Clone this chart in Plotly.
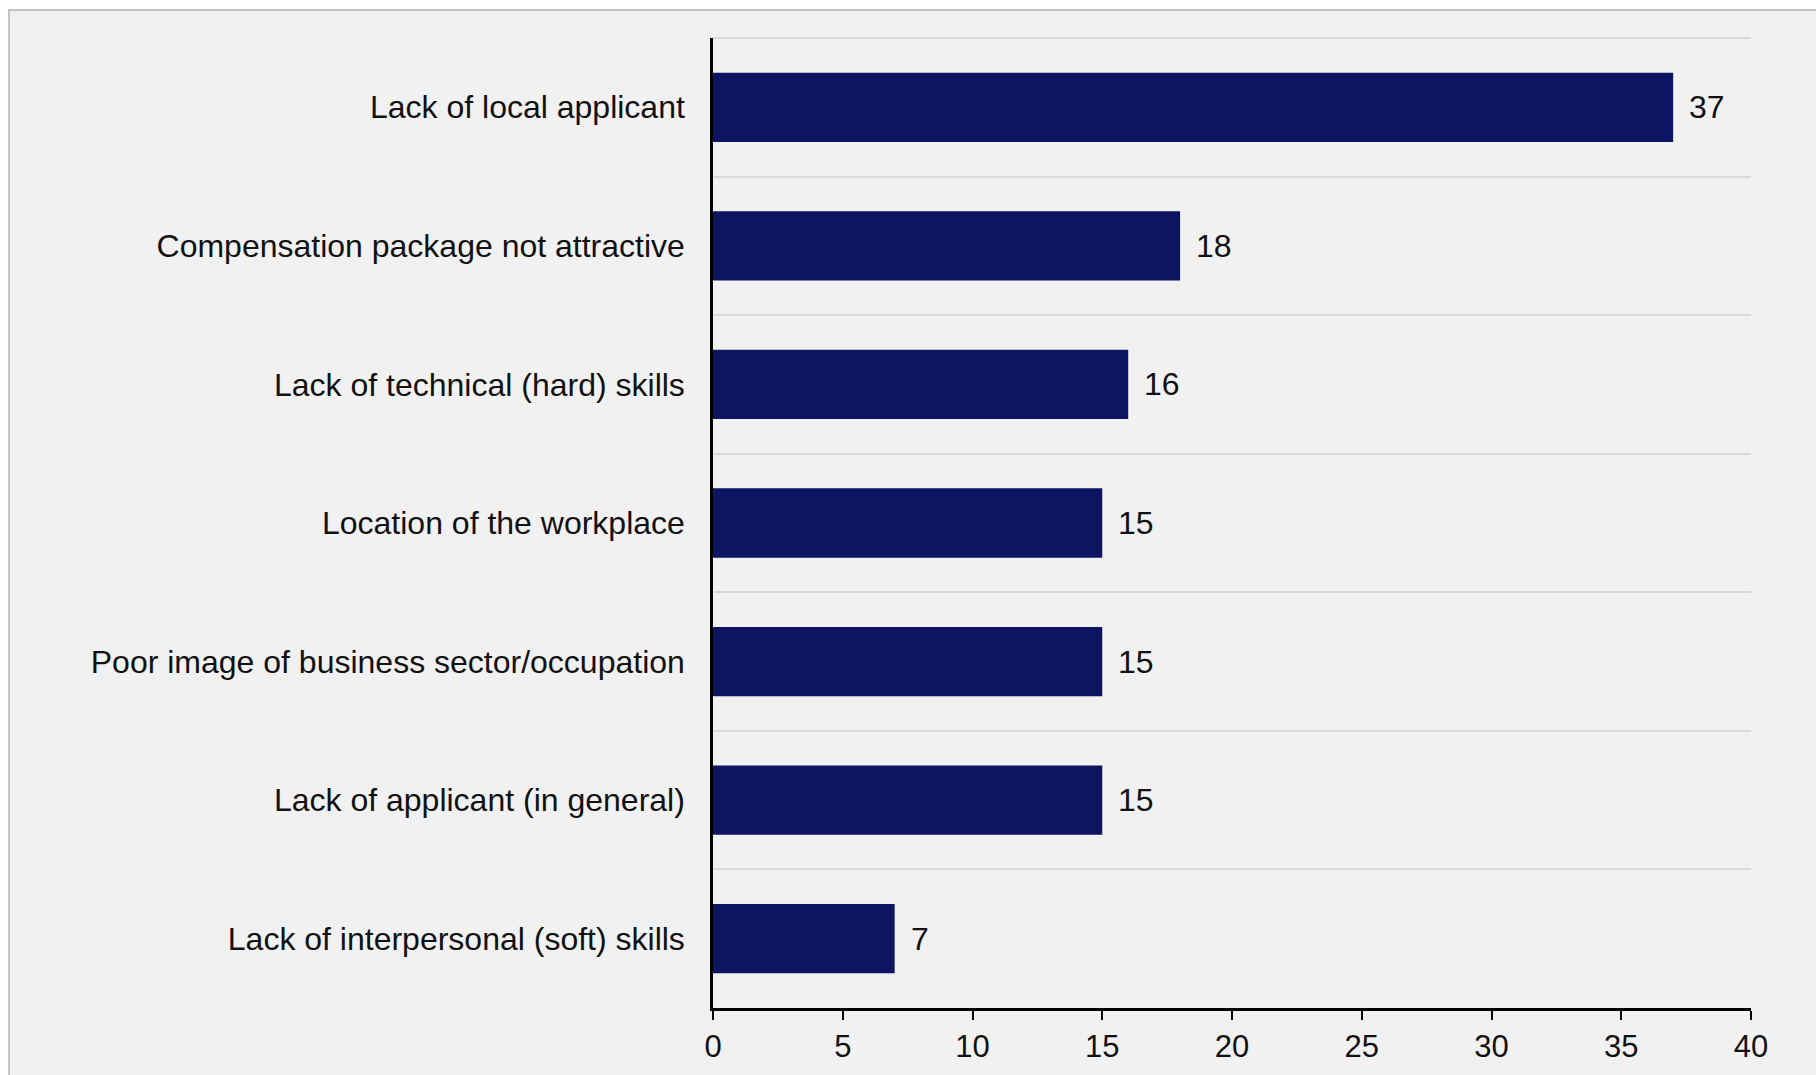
import plotly.graph_objects as go

# Survey results: reasons for hiring difficulties (share of responses)
categories = [
    "Lack of local applicant",
    "Compensation package not attractive",
    "Lack of technical (hard) skills",
    "Location of the workplace",
    "Poor image of business sector/occupation",
    "Lack of applicant (in general)",
    "Lack of interpersonal (soft) skills",
]
values = [37, 18, 16, 15, 15, 15, 7]
x_ticks = [0, 5, 10, 15, 20, 25, 30, 35, 40]

W, H = 1816, 1075
ML, MR, MT, MB = 713, 65, 38, 67
PW, PH = W - ML - MR, H - MT - MB

BAR = "#0d1462"
BG = "#f1f1f1"
GRID = "#d9d9d9"
FONT = "Arial, Liberation Sans, sans-serif"
TEXT = "#111111"


def px_x(p):
    return (p - ML) / PW


def px_y(p):
    return 1 - (p - MT) / PH


fig = go.Figure(
    go.Bar(
        x=values,
        y=categories,
        orientation="h",
        marker=dict(color=BAR, line=dict(width=0)),
        width=0.5,
        hoverinfo="x+y",
    )
)

# value labels to the right of each bar
for c, v in zip(categories, values):
    fig.add_annotation(
        x=v, y=c, xref="x", yref="y", text=str(v), showarrow=False,
        xanchor="left", yanchor="middle", xshift=14,
        font=dict(family=FONT, size=32, color=TEXT),
    )

shapes = [
    # white margin strip with the panel border at top and left
    dict(type="rect", xref="paper", yref="paper",
         x0=px_x(-5), x1=px_x(8), y0=px_y(H + 5), y1=px_y(-5),
         fillcolor="white", line=dict(width=0), layer="below"),
    dict(type="rect", xref="paper", yref="paper",
         x0=px_x(-5), x1=px_x(W + 5), y0=px_y(9), y1=px_y(-5),
         fillcolor="white", line=dict(width=0), layer="below"),
    dict(type="line", xref="paper", yref="paper",
         x0=px_x(9), x1=px_x(9), y0=px_y(10), y1=px_y(H + 5),
         line=dict(color="#c4c4c4", width=2)),
    dict(type="line", xref="paper", yref="paper",
         x0=px_x(8), x1=px_x(W + 5), y0=px_y(10), y1=px_y(10),
         line=dict(color="#c4c4c4", width=2)),
    # grid line along the top edge of the plot area
    dict(type="line", xref="paper", yref="paper",
         x0=0, x1=1, y0=1, y1=1,
         line=dict(color=GRID, width=2), layer="below"),
]

fig.update_layout(
    width=W, height=H,
    margin=dict(l=ML, r=MR, t=MT, b=MB, autoexpand=False),
    paper_bgcolor=BG, plot_bgcolor=BG,
    showlegend=False,
    shapes=shapes,
    font=dict(family=FONT, size=32, color=TEXT),
    xaxis=dict(
        range=[0, 40], tickvals=x_ticks, ticktext=[str(t) for t in x_ticks],
        showgrid=False, zeroline=False,
        showline=True, linecolor="black", linewidth=2.5,
        ticks="outside", ticklen=9, tickwidth=2, tickcolor="black",
        tickfont=dict(family=FONT, size=31, color=TEXT),
        fixedrange=True,
    ),
    yaxis=dict(
        categoryorder="array", categoryarray=categories,
        autorange="reversed",
        tickson="boundaries", ticks="",
        showgrid=True, gridcolor=GRID, gridwidth=2,
        showline=True, linecolor="black", linewidth=2.5,
        zeroline=False,
        ticklabelstandoff=19,
        tickfont=dict(family=FONT, size=32, color=TEXT),
        fixedrange=True,
    ),
)

fig.write_html("out.html")
